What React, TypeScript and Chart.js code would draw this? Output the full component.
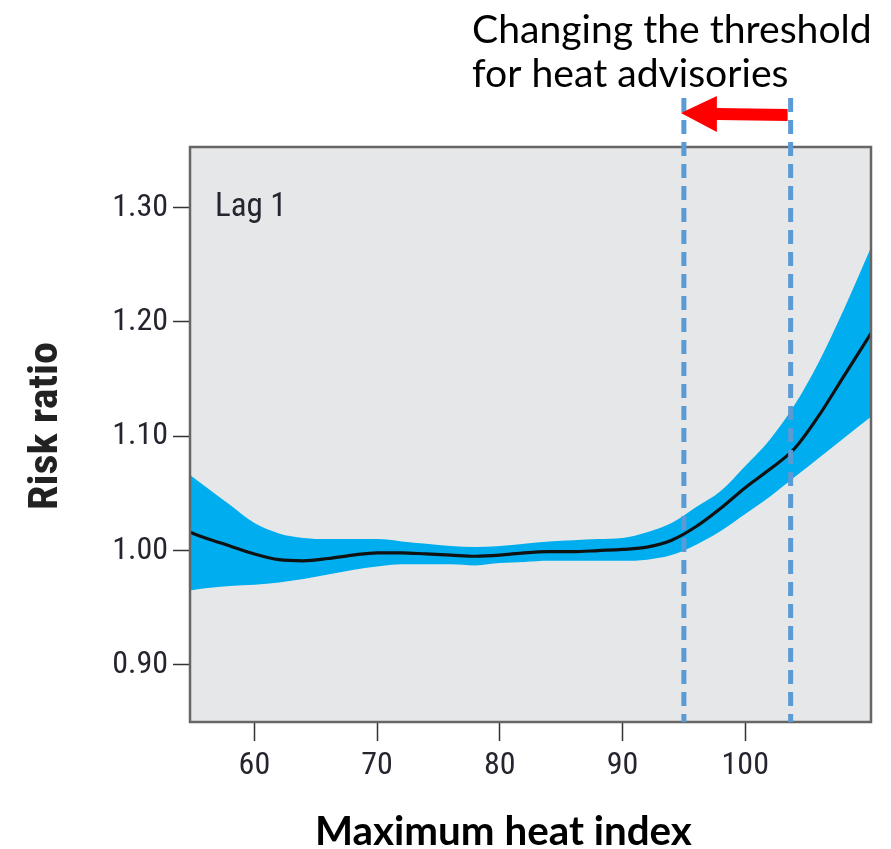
import React, { useEffect, useRef } from 'react';
import { Chart, registerables } from 'chart.js';

Chart.register(...registerables);

// ---- data ----
const heatIndex = [54.75, 56, 58, 60, 62, 64, 66, 68, 70, 72, 74, 76, 78, 80, 82, 84, 86, 88, 90, 92, 94, 96, 98, 100, 102, 104, 106, 108, 110.25];
const riskRatio = [1.016, 1.011, 1.004, 0.997, 0.992, 0.991, 0.993, 0.996, 0.998, 0.998, 0.997, 0.996, 0.995, 0.996, 0.998, 0.999, 0.999, 1.0, 1.001, 1.003, 1.009, 1.021, 1.037, 1.055, 1.071, 1.089, 1.118, 1.152, 1.19];
const upperCI = [1.066, 1.056, 1.04, 1.024, 1.015, 1.011, 1.01, 1.01, 1.01, 1.008, 1.006, 1.004, 1.003, 1.004, 1.006, 1.008, 1.009, 1.01, 1.011, 1.016, 1.024, 1.038, 1.052, 1.074, 1.097, 1.127, 1.165, 1.21, 1.265];
const lowerCI = [0.965, 0.967, 0.969, 0.97, 0.972, 0.975, 0.979, 0.983, 0.986, 0.988, 0.988, 0.988, 0.987, 0.989, 0.99, 0.991, 0.991, 0.991, 0.991, 0.992, 0.996, 1.005, 1.017, 1.032, 1.047, 1.064, 1.081, 1.098, 1.117];
const xTicks = [60, 70, 80, 90, 100];
const yTicks = [0.9, 1.0, 1.1, 1.2, 1.3];
const thresholds = [95, 103.7];
const panelLabel = 'Lag 1';
const xTitle = 'Maximum heat index';
const yTitle = 'Risk ratio';
const noteLines = ['Changing the threshold', 'for heat advisories'];

const NARROW = '"Roboto Condensed", "DejaVu Sans Condensed", sans-serif';
const TICK_COLOR = '#25252f';

function fitFont(ctx: CanvasRenderingContext2D, text: string, weight: string, family: string, target: number) {
  ctx.font = `${weight} 40px ${family}`;
  const w = ctx.measureText(text).width;
  return (40 * target) / w;
}

const decor = {
  id: 'decor',
  beforeDraw(chart: any) {
    const { ctx, chartArea: a } = chart;
    ctx.save();
    ctx.fillStyle = '#e6e7e8';
    ctx.fillRect(a.left, a.top, a.right - a.left, a.bottom - a.top);
    ctx.restore();
  },
  afterDraw(chart: any) {
    const { ctx, chartArea: a, scales } = chart;
    ctx.save();
    // plot frame
    ctx.strokeStyle = '#666666';
    ctx.lineWidth = 2.5;
    ctx.strokeRect(a.left, a.top, a.right - a.left, a.bottom - a.top);

    // panel label
    ctx.fillStyle = TICK_COLOR;
    ctx.font = `400 33px ${NARROW}`;
    ctx.textBaseline = 'alphabetic';
    ctx.textAlign = 'left';
    ctx.fillText(panelLabel, a.left + 25, a.top + 69);

    // dashed threshold lines
    ctx.strokeStyle = '#5b9bd5';
    ctx.lineWidth = 5;
    ctx.setLineDash([14, 8]);
    const xs = thresholds.map((t) => scales.x.getPixelForValue(t));
    xs.forEach((x: number) => {
      ctx.beginPath();
      ctx.moveTo(x, 98);
      ctx.lineTo(x, a.bottom);
      ctx.stroke();
    });
    ctx.setLineDash([]);

    // red arrow from the higher threshold to the lower one
    const tipX = xs[0] - 3;
    const tailX = xs[1] - 3;
    const cy = 114;
    ctx.fillStyle = '#ff0000';
    ctx.beginPath();
    ctx.moveTo(tipX, cy - 1);
    ctx.lineTo(tipX + 36, cy - 18);
    ctx.lineTo(tipX + 36, cy - 6);
    ctx.lineTo(tailX, cy - 5);
    ctx.lineTo(tailX, cy + 7);
    ctx.lineTo(tipX + 36, cy + 6);
    ctx.lineTo(tipX + 36, cy + 18);
    ctx.closePath();
    ctx.fill();

    // annotation
    ctx.fillStyle = '#000';
    const ns = fitFont(ctx, noteLines[0], '400', 'Lato', 400);
    ctx.font = `400 ${ns}px Lato`;
    ctx.fillText(noteLines[0], 472, 43);
    ctx.fillText(noteLines[1], 472, 87);

    // x title
    const xs2 = fitFont(ctx, xTitle, '700', 'Lato', 377);
    ctx.font = `700 ${xs2}px Lato`;
    ctx.fillText(xTitle, 315, 845);

    // y title
    ctx.font = `700 40px ${NARROW}`;
    const yw = ctx.measureText(yTitle).width;
    ctx.translate(57, 426);
    ctx.rotate(-Math.PI / 2);
    ctx.scale(168 / yw, 1);
    ctx.fillStyle = '#222';
    ctx.textAlign = 'center';
    ctx.fillText(yTitle, 0, 0);
    ctx.restore();
  },
};

export default function App() {
  const ref = useRef<HTMLCanvasElement | null>(null);
  useEffect(() => {
    if (!ref.current) return;
    const pts = (ys: number[]) => heatIndex.map((x, i) => ({ x, y: ys[i] }));
    const chart = new Chart(ref.current, {
      type: 'line',
      data: {
        datasets: [
          {
            label: 'Risk ratio',
            data: pts(riskRatio),
            borderColor: '#111111',
            borderWidth: 3.2,
            pointRadius: 0,
            cubicInterpolationMode: 'monotone',
            fill: false,
            order: 0,
          },
          {
            label: 'Upper 95% CI',
            data: pts(upperCI),
            borderWidth: 0,
            borderColor: 'rgba(0,0,0,0)',
            backgroundColor: '#00aeef',
            pointRadius: 0,
            cubicInterpolationMode: 'monotone',
            fill: '+1',
            order: 1,
          },
          {
            label: 'Lower 95% CI',
            data: pts(lowerCI),
            borderWidth: 0,
            borderColor: 'rgba(0,0,0,0)',
            pointRadius: 0,
            cubicInterpolationMode: 'monotone',
            fill: false,
            order: 2,
          },
        ],
      },
      options: {
        responsive: false,
        animation: false,
        devicePixelRatio: 1,
        layout: { padding: { left: 0, right: 20, top: 147, bottom: 0 } },
        plugins: { legend: { display: false }, tooltip: { enabled: false } },
        scales: {
          x: {
            type: 'linear',
            min: 54.75,
            max: 110.25,
            afterBuildTicks: (s: any) => {
              s.ticks = xTicks.map((v) => ({ value: v }));
            },
            afterFit: (s: any) => {
              s.height = 127;
            },
            border: { display: false },
            grid: { drawOnChartArea: false, tickLength: 19, tickColor: '#333', tickWidth: 1.5 },
            ticks: {
              padding: 6,
              color: TICK_COLOR,
              font: { family: NARROW, size: 32, weight: '400' },
              callback: (v: any) => String(v),
            },
          },
          y: {
            type: 'linear',
            min: 0.85,
            max: 1.353,
            afterBuildTicks: (s: any) => {
              s.ticks = yTicks.map((v) => ({ value: v }));
            },
            afterFit: (s: any) => {
              s.width = 190;
            },
            border: { display: false },
            grid: { drawOnChartArea: false, tickLength: 17, tickColor: '#333', tickWidth: 1.5 },
            ticks: {
              padding: 5,
              color: TICK_COLOR,
              font: { family: NARROW, size: 32, weight: '400' },
              callback: (v: any) => Number(v).toFixed(2),
            },
          },
        },
      },
      plugins: [decor],
    });
    return () => chart.destroy();
  }, []);
  return (
    <div style={{ position: 'absolute', left: 0, top: 0, width: 891, height: 849, background: '#fff' }}>
      <canvas ref={ref} width={891} height={849} style={{ display: 'block' }} />
    </div>
  );
}
